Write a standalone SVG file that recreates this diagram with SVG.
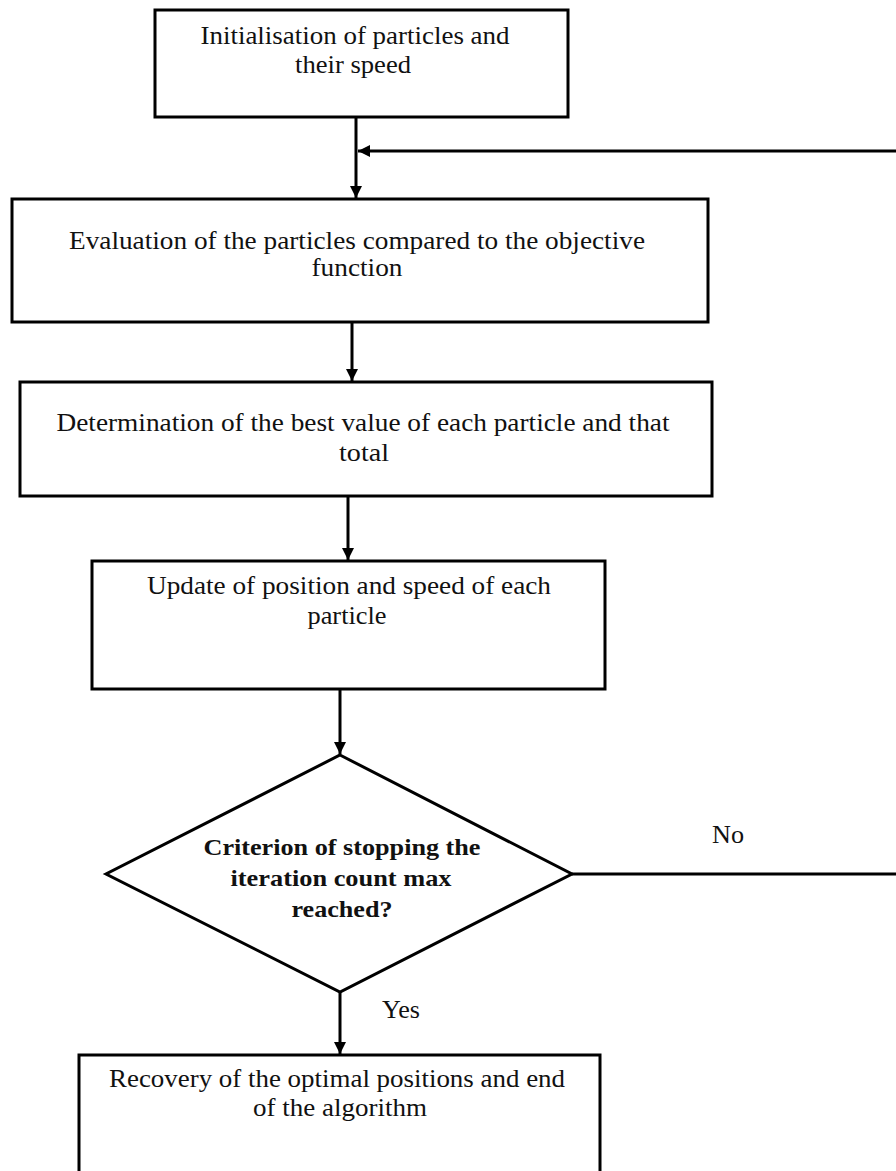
<svg xmlns="http://www.w3.org/2000/svg" width="896" height="1171" viewBox="0 0 896 1171">
<style>
.box{fill:#fff;stroke:#000;stroke-width:3}
.t{font-family:"Liberation Serif","Times New Roman",serif;font-size:25px;fill:#111;text-anchor:middle}
.n{font-size:25px}
.b{font-weight:bold;font-size:24px}
.c{fill:none;stroke:#000;stroke-width:3}
</style>
<defs>
<marker id="ah" markerUnits="userSpaceOnUse" markerWidth="14" markerHeight="14" refX="12" refY="6" orient="auto">
<path d="M0,0 L12,6 L0,12 Z" fill="#000"/>
</marker>
</defs>
<rect width="896" height="1171" fill="#fff"/>
<g id="connectors">
<line class="c" x1="356" y1="117" x2="356" y2="198" marker-end="url(#ah)"/>
<line class="c" x1="896" y1="151" x2="358" y2="151" marker-end="url(#ah)"/>
<line class="c" x1="352" y1="322" x2="352" y2="381" marker-end="url(#ah)"/>
<line class="c" x1="348" y1="496" x2="348" y2="560" marker-end="url(#ah)"/>
<line class="c" x1="340" y1="689" x2="340" y2="754" marker-end="url(#ah)"/>
<line class="c" x1="572" y1="874" x2="896" y2="874"/>
<line class="c" x1="340" y1="992" x2="340" y2="1054" marker-end="url(#ah)"/>
<text class="t" x="728" y="843" textLength="32" lengthAdjust="spacingAndGlyphs">No</text>
<text class="t" x="401" y="1018" textLength="38" lengthAdjust="spacingAndGlyphs">Yes</text>
</g>
<g id="init">
<rect class="box" x="155" y="10" width="413" height="107"/>
<text class="t" x="355" y="44" textLength="309" lengthAdjust="spacingAndGlyphs">Initialisation of particles and</text>
<text class="t" x="353" y="73" textLength="116" lengthAdjust="spacingAndGlyphs">their speed</text>
</g>
<g id="eval">
<rect class="box" x="12" y="199" width="696" height="123"/>
<text class="t n" x="357" y="249" textLength="576" lengthAdjust="spacingAndGlyphs">Evaluation of the particles compared to the objective</text>
<text class="t n" x="357" y="276" textLength="91" lengthAdjust="spacingAndGlyphs">function</text>
</g>
<g id="best">
<rect class="box" x="20" y="382" width="692" height="114"/>
<text class="t n" x="363" y="431" textLength="613" lengthAdjust="spacingAndGlyphs">Determination of the best value of each particle and that</text>
<text class="t n" x="364" y="461" textLength="50" lengthAdjust="spacingAndGlyphs">total</text>
</g>
<g id="update">
<rect class="box" x="92" y="561" width="513" height="128"/>
<text class="t" x="349" y="594" textLength="404" lengthAdjust="spacingAndGlyphs">Update of position and speed of each</text>
<text class="t" x="347" y="624" textLength="79" lengthAdjust="spacingAndGlyphs">particle</text>
</g>
<g id="decision">
<polygon class="box" points="340,755 572,874 340,992 106,874"/>
<text class="t b" x="342" y="855" textLength="277" lengthAdjust="spacingAndGlyphs">Criterion of stopping the</text>
<text class="t b" x="341" y="886" textLength="221" lengthAdjust="spacingAndGlyphs">iteration count max</text>
<text class="t b" x="342" y="917" textLength="101" lengthAdjust="spacingAndGlyphs">reached?</text>
</g>
<g id="end">
<rect class="box" x="79" y="1055" width="521" height="140"/>
<text class="t" x="337" y="1087" textLength="456" lengthAdjust="spacingAndGlyphs">Recovery of the optimal positions and end</text>
<text class="t" x="340" y="1116" textLength="174" lengthAdjust="spacingAndGlyphs">of the algorithm</text>
</g>
</svg>
